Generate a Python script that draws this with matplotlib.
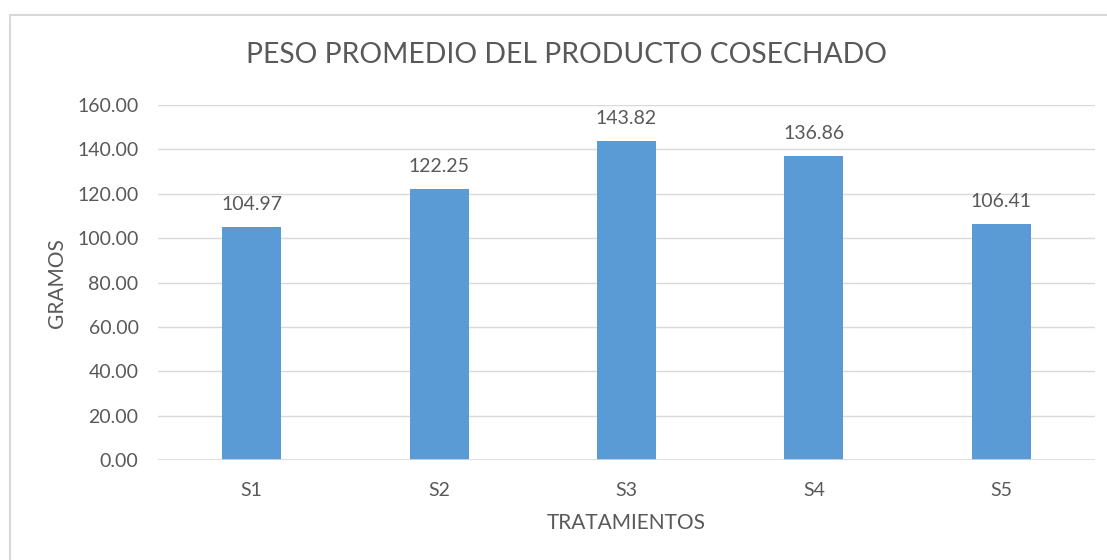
import matplotlib
matplotlib.use("Agg")
import matplotlib.pyplot as plt
from matplotlib.patches import Rectangle

categories = ["S1", "S2", "S3", "S4", "S5"]
values = [104.97, 122.25, 143.82, 136.86, 106.41]
yticks = [0, 20, 40, 60, 80, 100, 120, 140, 160]

TEXT = "#595959"
GRID = "#D9D9D9"
BAR = "#5B9BD5"
FONT = ["Lato", "DejaVu Sans"]

W, H = 1107, 560
fig = plt.figure(figsize=(W / 100, H / 100), dpi=100)
plt.rcParams['font.family'] = FONT

# chart border
fig.patches.append(Rectangle((10 / W, -0.05), 1.2, 1 - 15 / H + 0.05,
                             transform=fig.transFigure, fill=False,
                             edgecolor=GRID, linewidth=1.5))

ax = fig.add_axes([158 / W, 1 - 460 / H, (1095 - 158) / W, (460 - 105) / H])
x = range(len(categories))
bars = ax.bar(x, values, width=0.315, color=BAR, zorder=3)
ax.set_xlim(-0.5, len(categories) - 0.5)
ax.set_ylim(0, 160)
ax.set_yticks(yticks)
ax.set_yticklabels([f"{v:.2f}" for v in yticks], fontsize=14, color=TEXT)
ax.set_xticks(list(x))
ax.set_xticklabels(categories, fontsize=14, color=TEXT)
ax.tick_params(length=0)
ax.tick_params(axis="y", pad=14)
ax.tick_params(axis="x", pad=16)
ax.grid(axis="y", color=GRID, linewidth=1, zorder=0)
for s in ax.spines.values():
    s.set_visible(False)
ax.axhline(0, color=GRID, linewidth=1.2, zorder=4)

for b, v in zip(bars, values):
    ax.annotate(f"{v:.2f}", (b.get_x() + b.get_width() / 2, v),
                xytext=(0, 10), textcoords="offset points",
                ha="center", va="bottom", fontsize=14, color=TEXT)

fig.text(566 / W, 1 - 55 / H, "PESO PROMEDIO DEL PRODUCTO COSECHADO",
         ha="center", va="center", fontsize=20.3, color=TEXT)
fig.text(57 / W, 1 - 283 / H, "GRAMOS", rotation=90, ha="center",
         va="center", fontsize=15, color=TEXT)
fig.text(626 / W, 1 - 523 / H, "TRATAMIENTOS", ha="center", va="center",
         fontsize=15, color=TEXT)

fig.savefig("out.png", dpi=100)
